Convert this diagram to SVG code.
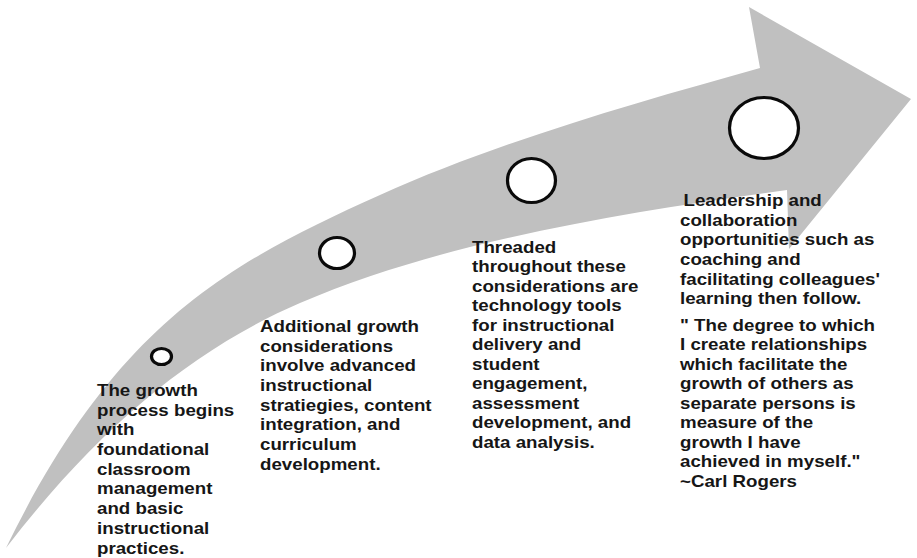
<svg xmlns="http://www.w3.org/2000/svg" width="917" height="558" viewBox="0 0 917 558">
<style>
.bg{fill:#ffffff}
.arrow{fill:#c0c0c0;stroke:none}
.dot{fill:#ffffff;stroke:#0a0a0a;stroke-width:3.2}
.t{font-family:"Liberation Sans",Arial,sans-serif;font-weight:bold;font-size:16px;fill:#161616}
</style>
<rect class="bg" x="0" y="0" width="917" height="558"/>
<g id="connectors">
<path id="growth-arrow" class="arrow" d="M6 548 C116 322.5 230 262.5 380 195 C500 141 640 101.6 760 68 L749 7 L911 99 L789 249 L787 190 C637 211 450 238.5 300 303 C190 350.3 96 431 6 548 Z"/>
</g>
<g id="stage1">
<ellipse class="dot" cx="161.5" cy="356.5" rx="10" ry="8"/>
<g transform="translate(97,0) scale(1.17,1)">
<text class="t" x="0" y="396">The growth</text>
<text class="t" x="0" y="415.7">process begins</text>
<text class="t" x="0" y="435.4">with</text>
<text class="t" x="0" y="455.1">foundational</text>
<text class="t" x="0" y="474.8">classroom</text>
<text class="t" x="0" y="494.5">management</text>
<text class="t" x="0" y="514.2">and basic</text>
<text class="t" x="0" y="533.9">instructional</text>
<text class="t" x="0" y="553.6">practices.</text>
</g>
</g>
<g id="stage2">
<ellipse class="dot" cx="337" cy="253" rx="17.5" ry="15.5"/>
<g transform="translate(260,0) scale(1.17,1)">
<text class="t" x="0" y="332">Additional growth</text>
<text class="t" x="0" y="351.7">considerations</text>
<text class="t" x="0" y="371.4">involve advanced</text>
<text class="t" x="0" y="391.1">instructional</text>
<text class="t" x="0" y="410.8">stratiegies, content</text>
<text class="t" x="0" y="430.5">integration, and</text>
<text class="t" x="0" y="450.2">curriculum</text>
<text class="t" x="0" y="469.9">development.</text>
</g>
</g>
<g id="stage3">
<ellipse class="dot" cx="531.5" cy="180.5" rx="24" ry="22"/>
<g transform="translate(472,0) scale(1.17,1)">
<text class="t" x="0" y="253">Threaded</text>
<text class="t" x="0" y="272.5">throughout these</text>
<text class="t" x="0" y="292">considerations are</text>
<text class="t" x="0" y="311.5">technology tools</text>
<text class="t" x="0" y="331">for instructional</text>
<text class="t" x="0" y="350.5">delivery and</text>
<text class="t" x="0" y="370">student</text>
<text class="t" x="0" y="389.5">engagement,</text>
<text class="t" x="0" y="409">assessment</text>
<text class="t" x="0" y="428.5">development, and</text>
<text class="t" x="0" y="448">data analysis.</text>
</g>
</g>
<g id="stage4">
<ellipse class="dot" cx="764" cy="128" rx="34.5" ry="30.5"/>
<g transform="translate(680,0) scale(1.17,1)">
<text class="t" x="3" y="206">Leadership and</text>
<text class="t" x="0" y="225.7">collaboration</text>
<text class="t" x="0" y="245.4">opportunities such as</text>
<text class="t" x="0" y="265.1">coaching and</text>
<text class="t" x="0" y="284.8">facilitating colleagues'</text>
<text class="t" x="0" y="304.5">learning then follow.</text>
<text class="t" x="0" y="331">" The degree to which</text>
<text class="t" x="0" y="350.5">I create relationships</text>
<text class="t" x="0" y="370">which facilitate the</text>
<text class="t" x="0" y="389.5">growth of others as</text>
<text class="t" x="0" y="409">separate persons is</text>
<text class="t" x="0" y="428.5">measure of the</text>
<text class="t" x="0" y="448">growth I have</text>
<text class="t" x="0" y="467.5">achieved in myself."</text>
<text class="t" x="0" y="487">~Carl Rogers</text>
</g>
</g>
</svg>
